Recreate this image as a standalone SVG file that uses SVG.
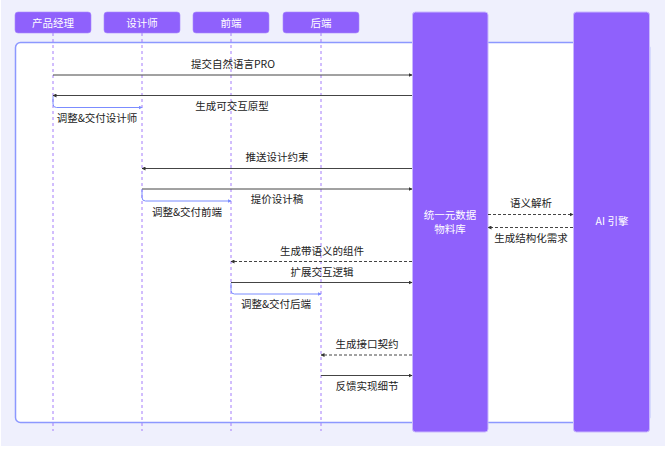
<svg xmlns="http://www.w3.org/2000/svg" width="665" height="449" viewBox="0 0 665 449">
<defs>
<style>
.bg{fill:#eff0fd}
.frame{fill:#ffffff;stroke:#8c98ff;stroke-width:1.5}
.actor{fill:#8f61fc;stroke:#a98bfd;stroke-width:0.6}
.big{fill:#8f61fc;stroke:#c9b8fe;stroke-width:1}
.life{stroke:#a47cfb;stroke-width:1;stroke-dasharray:3 3;fill:none}
.msg{stroke:#444;stroke-width:1;fill:none}
.dash{stroke:#444;stroke-width:1;stroke-dasharray:3 2;fill:none}
.loop{stroke:#7b8cff;stroke-width:1;fill:none}
text{font-family:"Noto Sans CJK SC","Noto Sans",sans-serif;font-size:10.5px}
.w{fill:#ffffff;text-anchor:middle}
.t{fill:#222;text-anchor:middle}
</style>
<marker id="ah" markerWidth="4" markerHeight="4" refX="3.5" refY="2" orient="auto" markerUnits="userSpaceOnUse">
<path d="M0,0 L4,2 L0,4 Z" fill="#333"/>
</marker>
<marker id="ahb" markerWidth="4" markerHeight="4" refX="3.5" refY="2" orient="auto" markerUnits="userSpaceOnUse">
<path d="M0,0 L4,2 L0,4 Z" fill="#7b8cff"/>
</marker>
</defs>
<rect class="bg" x="1" y="0" width="664" height="446"/>
<rect class="frame" x="15.5" y="42.5" width="634" height="380" rx="5"/>

<g id="lifelines">
<line class="life" x1="53" y1="33" x2="53" y2="431"/>
<line class="life" x1="142" y1="33" x2="142" y2="431"/>
<line class="life" x1="231" y1="33" x2="231" y2="431"/>
<line class="life" x1="321" y1="33" x2="321" y2="431"/>
</g>

<g id="pm"><rect class="actor" x="15" y="12" width="76" height="21" rx="3"/><text class="w" x="53" y="26.5">产品经理</text></g>
<g id="designer"><rect class="actor" x="104" y="12" width="76" height="21" rx="3"/><text class="w" x="142" y="26.5">设计师</text></g>
<g id="frontend"><rect class="actor" x="193" y="12" width="76" height="21" rx="3"/><text class="w" x="231" y="26.5">前端</text></g>
<g id="backend"><rect class="actor" x="283" y="12" width="76" height="21" rx="3"/><text class="w" x="321" y="26.5">后端</text></g>
<g id="repo"><rect class="big" x="412.5" y="12" width="75.5" height="420" rx="3"/><text class="w" x="450" y="219">统一元数据</text><text class="w" x="450" y="233">物料库</text></g>
<g id="ai"><rect class="big" x="573.5" y="12" width="76" height="420" rx="3"/><text class="w" x="612" y="225">AI 引擎</text></g>

<g id="connectors">
<line class="msg" x1="53" y1="75" x2="412" y2="75" marker-end="url(#ah)"/>
<text class="t" x="233" y="68">提交自然语言PRO</text>
<line class="msg" x1="412" y1="95.5" x2="53" y2="95.5" marker-end="url(#ah)"/>
<text class="t" x="232" y="110">生成可交互原型</text>
<path class="loop" d="M53,96 L53,104 Q53,107.5 56.5,107.5 L142,107.5" marker-end="url(#ahb)"/>
<text class="t" x="97" y="122">调整&amp;交付设计师</text>

<line class="msg" x1="412" y1="168.5" x2="142" y2="168.5" marker-end="url(#ah)"/>
<text class="t" x="277" y="161">推送设计约束</text>
<line class="msg" x1="142" y1="189" x2="412" y2="189" marker-end="url(#ah)"/>
<text class="t" x="277" y="203">提价设计稿</text>
<path class="loop" d="M142,189.5 L142,197.5 Q142,201 145.5,201 L231,201" marker-end="url(#ahb)"/>
<text class="t" x="187" y="216">调整&amp;交付前端</text>

<line class="dash" x1="412" y1="261.5" x2="231" y2="261.5" marker-end="url(#ah)"/>
<text class="t" x="322" y="255">生成带语义的组件</text>
<line class="msg" x1="231" y1="282.5" x2="412" y2="282.5" marker-end="url(#ah)"/>
<text class="t" x="322" y="276">扩展交互逻辑</text>
<path class="loop" d="M231,283 L231,290.5 Q231,294 234.5,294 L321,294" marker-end="url(#ahb)"/>
<text class="t" x="276" y="308">调整&amp;交付后端</text>

<line class="dash" x1="412" y1="355" x2="321" y2="355" marker-end="url(#ah)"/>
<text class="t" x="367" y="348">生成接口契约</text>
<line class="msg" x1="321" y1="375.5" x2="412" y2="375.5" marker-end="url(#ah)"/>
<text class="t" x="367" y="390">反馈实现细节</text>

<line class="dash" x1="488" y1="214.5" x2="573" y2="214.5" marker-end="url(#ah)"/>
<text class="t" x="531" y="207">语义解析</text>
<line class="dash" x1="573" y1="227.5" x2="488" y2="227.5" marker-end="url(#ah)"/>
<text class="t" x="531" y="242">生成结构化需求</text>
</g>
</svg>
